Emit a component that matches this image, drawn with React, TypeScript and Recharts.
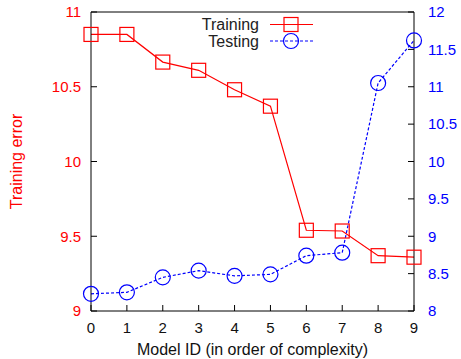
import React from 'react';
import { ComposedChart, Line, XAxis, YAxis, Legend, Label } from 'recharts';

const modelIds = [0, 1, 2, 3, 4, 5, 6, 7, 8, 9];
const trainingError = [10.85, 10.85, 10.665, 10.61, 10.48, 10.37, 9.54, 9.535, 9.37, 9.36];
const testingError = [8.23, 8.25, 8.45, 8.54, 8.47, 8.49, 8.74, 8.78, 11.05, 11.62];
const xTicks = [0, 1, 2, 3, 4, 5, 6, 7, 8, 9];
const leftTicks = [9, 9.5, 10, 10.5, 11];
const rightTicks = [8, 8.5, 9, 9.5, 10, 10.5, 11, 11.5, 12];
const legendOrder = ['training', 'testing'];

const data = modelIds.map((id, i) => ({ id, training: trainingError[i], testing: testingError[i] }));

const FONT = '"Liberation Sans", Arial, Helvetica, sans-serif';
const RED = '#ff0000';
const BLUE = '#0000ff';

const SquareDot = (props: any) => {
  const { cx, cy, index } = props;
  if (cx == null || cy == null) return <g key={`s-${index}`} />;
  return <rect key={`s-${index}`} x={cx - 7} y={cy - 7} width={14} height={14} fill="none" stroke={RED} strokeWidth={1.2} />;
};

const CircleDot = (props: any) => {
  const { cx, cy, index } = props;
  if (cx == null || cy == null) return <g key={`c-${index}`} />;
  return <circle key={`c-${index}`} cx={cx} cy={cy} r={7.5} fill="none" stroke={BLUE} strokeWidth={1.2} />;
};

const renderLegend = (props: any) => {
  const payload = [...(props.payload || [])].sort(
    (a: any, b: any) => legendOrder.indexOf(a.dataKey) - legendOrder.indexOf(b.dataKey)
  );
  return (
    <svg width={150} height={45} style={{ display: 'block' }}>
      {payload.map((p: any, i: number) => {
        const y = 14.5 + i * 16.5;
        const isTrain = p.dataKey === 'training';
        return (
          <g key={i}>
            <text x={79} y={y} textAnchor="end" dominantBaseline="central" fontFamily={FONT} fontSize={16} fill="#222">
              {p.value}
            </text>
            <line x1={90} x2={133} y1={y} y2={y} stroke={p.color} strokeWidth={1.2} strokeDasharray={isTrain ? undefined : '3 2'} />
            {isTrain ? (
              <rect x={104} y={y - 7} width={14} height={14} fill="none" stroke={RED} strokeWidth={1.2} />
            ) : (
              <circle cx={111} cy={y} r={7.5} fill="none" stroke={BLUE} strokeWidth={1.2} />
            )}
          </g>
        );
      })}
    </svg>
  );
};

export default function App() {
  return (
    <div style={{ position: 'absolute', left: 0, top: 0, width: 461, height: 359, background: '#fff' }}>
      <ComposedChart width={461} height={359} data={data} margin={{ top: 11, right: 7, bottom: 8, left: 31 }}>
        <XAxis
          dataKey="id"
          type="number"
          domain={[0, 9]}
          ticks={xTicks}
          interval={0}
          height={40}
          tickSize={-6}
          tickMargin={17}
          axisLine={{ stroke: '#000', strokeWidth: 1 }}
          tickLine={{ stroke: '#000' }}
          tick={{ fill: '#111', fontFamily: FONT, fontSize: 15 }}
        >
          <Label
            content={(lp: any) => {
              const vb = lp.viewBox || {};
              return (
                <text x={vb.x + vb.width / 2} y={vb.y + 44} textAnchor="middle" fontFamily={FONT} fontSize={16} fill="#111">
                  Model ID (in order of complexity)
                </text>
              );
            }}
          />
        </XAxis>
        <XAxis
          xAxisId="top"
          dataKey="id"
          type="number"
          orientation="top"
          domain={[0, 9]}
          ticks={xTicks}
          interval={0}
          height={1}
          tickSize={-6}
          tick={false}
          axisLine={{ stroke: '#000', strokeWidth: 1 }}
          tickLine={{ stroke: '#000' }}
        />
        <YAxis
          yAxisId="left"
          orientation="left"
          domain={[9, 11]}
          ticks={leftTicks}
          interval={0}
          width={60}
          tickSize={-6}
          tickMargin={16}
          axisLine={{ stroke: '#000', strokeWidth: 1 }}
          tickLine={{ stroke: '#000' }}
          tick={{ fill: RED, fontFamily: FONT, fontSize: 15 }}
        >
          <Label
            content={(lp: any) => {
              const vb = lp.viewBox || {};
              const x = vb.x - 15;
              const y = vb.y + vb.height / 2;
              return (
                <text x={x} y={y} transform={`rotate(-90 ${x} ${y})`} textAnchor="middle" dominantBaseline="central" fontFamily={FONT} fontSize={16} fill={RED}>
                  Training error
                </text>
              );
            }}
          />
        </YAxis>
        <YAxis
          yAxisId="right"
          orientation="right"
          domain={[8, 12]}
          ticks={rightTicks}
          interval={0}
          width={40}
          tickSize={-6}
          tickMargin={20}
          axisLine={{ stroke: '#000', strokeWidth: 1 }}
          tickLine={{ stroke: '#000' }}
          tick={{ fill: BLUE, fontFamily: FONT, fontSize: 15, textAnchor: 'start' }}
        />
        <Legend
          layout="vertical"
          align="center"
          verticalAlign="middle"
          content={renderLegend}
          wrapperStyle={{ left: 180, top: 10, width: 150, height: 45 }}
        />
        <Line
          yAxisId="left"
          dataKey="training"
          name="Training"
          stroke={RED}
          strokeWidth={1.2}
          dot={SquareDot}
          activeDot={false}
          isAnimationActive={false}
        />
        <Line
          yAxisId="right"
          dataKey="testing"
          name="Testing"
          stroke={BLUE}
          strokeWidth={1.2}
          strokeDasharray="3 2"
          dot={CircleDot}
          activeDot={false}
          isAnimationActive={false}
        />
      </ComposedChart>
    </div>
  );
}
